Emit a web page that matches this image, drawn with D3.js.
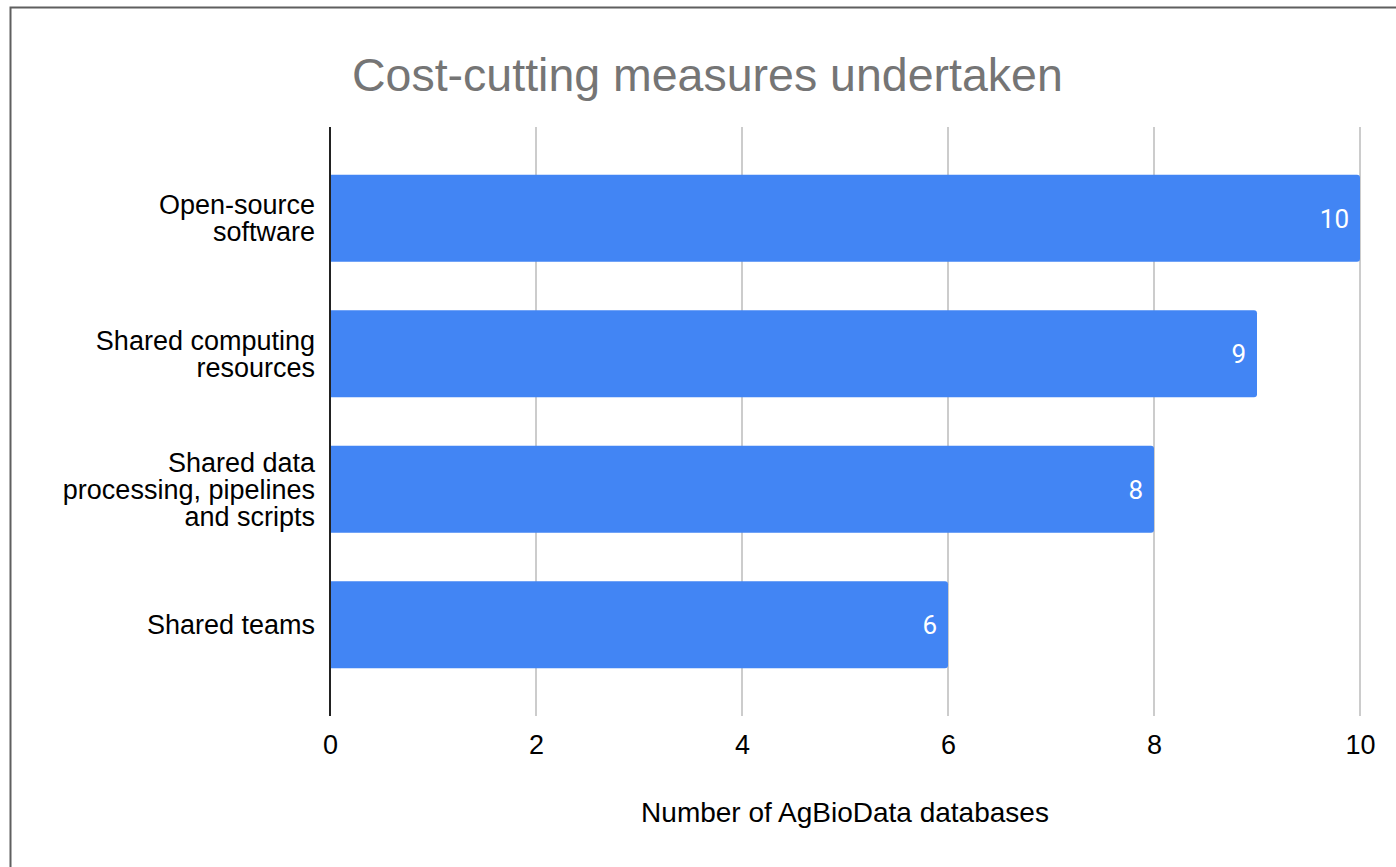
<!DOCTYPE html>
<html>
<head>
<meta charset="utf-8">
<script src="https://cdn.jsdelivr.net/npm/d3@7"></script>
<style>
  html, body { margin: 0; padding: 0; background: #fff; }
  svg { display: block; }
</style>
</head>
<body>
<svg id="chart" width="1396" height="867"></svg>
<script>
const categories = [
  ["Open-source", "software"],
  ["Shared computing", "resources"],
  ["Shared data", "processing, pipelines", "and scripts"],
  ["Shared teams"]
];
const categoryKeys = ["Open-source software", "Shared computing resources", "Shared data processing, pipelines and scripts", "Shared teams"];
const values = [10, 9, 8, 6];
const tickValues = [0, 2, 4, 6, 8, 10];
const title = "Cost-cutting measures undertaken";
const xTitle = "Number of AgBioData databases";

(function () {
const svg = d3.select("#chart");
const W = 1396, H = 867;

// outer frame
svg.append("rect")
  .attr("x", 10.5).attr("y", 7.5)
  .attr("width", W).attr("height", H)
  .attr("fill", "#fff")
  .attr("stroke", "#5f5f5f").attr("stroke-width", 2);

const pLeft = 330, pRight = 1360, pTop = 127, pBottom = 716;
const font = "'Liberation Sans', Arial, Helvetica, sans-serif";

const x = d3.scaleLinear().domain([0, 10]).range([pLeft, pRight]);
const y = d3.scaleBand().domain(categoryKeys).range([pTop, pBottom])
  .paddingInner(0.358).paddingOuter(0.352);

// gridlines
svg.append("g")
  .selectAll("line")
  .data(tickValues.filter(d => d !== 0))
  .join("line")
  .attr("x1", d => x(d)).attr("x2", d => x(d))
  .attr("y1", pTop).attr("y2", pBottom)
  .attr("stroke", "#cccccc").attr("stroke-width", 2);

// bars with rounded right end
const r = 3;
svg.append("g")
  .selectAll("path")
  .data(values)
  .join("path")
  .attr("fill", "#4285f4")
  .attr("d", (d, i) => {
    const x0 = x(0), x1 = x(d), y0 = y(categoryKeys[i]), h = y.bandwidth();
    return `M${x0},${y0} H${x1 - r} Q${x1},${y0} ${x1},${y0 + r} V${y0 + h - r} Q${x1},${y0 + h} ${x1 - r},${y0 + h} H${x0} Z`;
  });

// value labels
svg.append("g")
  .selectAll("text")
  .data(values)
  .join("text")
  .attr("x", d => x(d) - 11)
  .attr("y", (d, i) => y(categoryKeys[i]) + y.bandwidth() / 2)
  .attr("dy", "0.36em")
  .attr("text-anchor", "end")
  .attr("fill", "#ffffff")
  .attr("font-family", "Roboto, 'Noto Sans', sans-serif")
  .attr("font-size", 26)
  .text(d => d);

// left axis line
svg.append("line")
  .attr("x1", pLeft).attr("x2", pLeft)
  .attr("y1", pTop).attr("y2", pBottom)
  .attr("stroke", "#222").attr("stroke-width", 2);

// x tick labels
const xAxis = d3.axisBottom(x).tickValues(tickValues).tickSize(0).tickPadding(0).tickFormat(d3.format("d"));
const gx = svg.append("g").attr("transform", `translate(0,${745})`).call(xAxis);
gx.select(".domain").remove();
gx.selectAll("text")
  .attr("font-family", font)
  .attr("font-size", 27)
  .attr("fill", "#000")
  .attr("dy", "0.35em");

// category labels
const lineH = 27;
const gy = svg.append("g");
categories.forEach((lines, i) => {
  const cy = y(categoryKeys[i]) + y.bandwidth() / 2;
  const t = gy.append("text")
    .attr("text-anchor", "end")
    .attr("font-family", font)
    .attr("font-size", 27)
    .attr("fill", "#000");
  const n = lines.length;
  lines.forEach((ln, j) => {
    t.append("tspan")
      .attr("x", 315)
      .attr("y", cy + (j - (n - 1) / 2) * lineH)
      .attr("dy", "0.35em")
      .text(ln);
  });
});

// title
svg.append("text")
  .attr("x", 352).attr("y", 75)
  .attr("dy", "0.35em")
  .attr("font-family", font)
  .attr("font-size", 46.5)
  .attr("fill", "#757575")
  .text(title);

// x-axis title
svg.append("text")
  .attr("x", (pLeft + pRight) / 2).attr("y", 812)
  .attr("dy", "0.35em")
  .attr("text-anchor", "middle")
  .attr("font-family", font)
  .attr("font-size", 28)
  .attr("fill", "#000")
  .text(xTitle);
})();
</script>
</body>
</html>
